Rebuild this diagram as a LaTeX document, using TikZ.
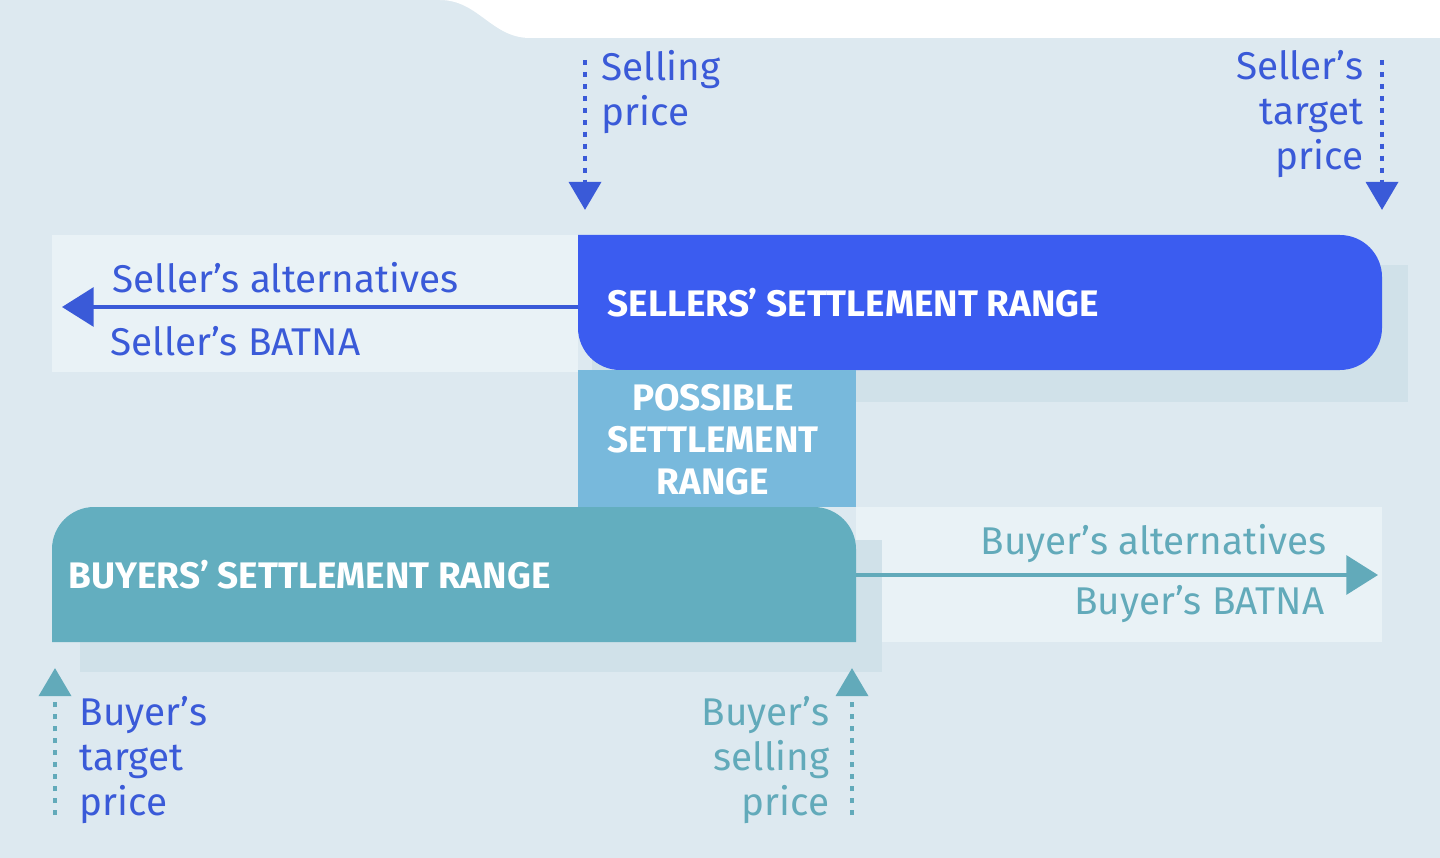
\documentclass[tikz,border=0pt]{standalone}
\usepackage{fontspec}
\setmainfont{Fira Sans}
\usetikzlibrary{arrows.meta,positioning}
\definecolor{bgColor}{HTML}{DDE9F0}
\definecolor{paleColor}{HTML}{E9F2F6}
\definecolor{shadeColor}{HTML}{D0E1E9}
\definecolor{sellColor}{HTML}{3B5CF0}
\definecolor{possColor}{HTML}{78B9DC}
\definecolor{buyColor}{HTML}{63AEBF}
\definecolor{sellText}{HTML}{3A5AD8}
\definecolor{buyText}{HTML}{62AABA}
\tikzset{
	barlabel/.style={text=white, font=\bfseries\fontsize{10.5}{12}\selectfont, inner sep=0},
	pricelabel/.style={font=\fontsize{11}{12.8}\selectfont, inner sep=0},
	dotarrow/.style={dotted, line width=1.4pt, -{Triangle[length=8pt,width=9pt]}},
	rangearrow/.style={line width=1.2pt, -{Triangle[length=9pt,width=11pt]}}
}
\begin{document}
\begin{tikzpicture}[x=0.01cm, y=-0.01cm]
	\fill[bgColor] (0,0) rectangle (1440,858);
	\useasboundingbox (0,0) rectangle (1440,858);
	\fill[white] (440,-5) -- (440,0) to[out=0,in=180] (530,38) -- (1440,38) -- (1440,-5) -- cycle;
	% pale backgrounds and shadows
	\fill[paleColor] (52,235) rectangle (578,372);
	\fill[paleColor] (856,507) rectangle (1382,642);
	\fill[shadeColor] (592,265) rectangle (1408,402);
	\fill[shadeColor] (80,540) rectangle (882,672);
	% bars
	\fill[sellColor, rounded corners=12] (578,235) -- (1382,235) -- (1382,370) -- (578,370) [sharp corners] -- cycle;
	\fill[possColor] (578,370) rectangle (856,507);
	\fill[buyColor, rounded corners=12] (52,642) -- (52,507) -- (856,507) [sharp corners] -- (856,642) -- cycle;
	\node[barlabel, anchor=west] (sell) at (607,303) {SELLERS’ SETTLEMENT RANGE};
	\node[barlabel, align=center] (poss) at (713,440) {POSSIBLE\\SETTLEMENT\\RANGE};
	\node[barlabel, anchor=west] (buy) at (68,575) {BUYERS’ SETTLEMENT RANGE};
	% range arrows
	\coordinate (sellstart) at (578,307);
	\coordinate (sellend) at (62,307);
	\coordinate (buystart) at (856,575);
	\coordinate (buyend) at (1378,575);
	\draw[rangearrow, sellText] (sellstart) -- (sellend);
	\draw[rangearrow, buyText] (buystart) -- (buyend);
	\node[pricelabel, text=sellText, anchor=west] (sellalt) at (112,278) {Seller’s alternatives};
	\node[pricelabel, text=sellText, anchor=west] (sellbatna) at (110,341) {Seller’s BATNA};
	\node[pricelabel, text=buyText, anchor=east] (buyalt) at (1327,544) {Buyer’s alternatives};
	\node[pricelabel, text=buyText, anchor=east] (buybatna) at (1325,604) {Buyer’s BATNA};
	% price markers
	\coordinate (sp top) at (585,60);
	\coordinate (sp bot) at (585,210);
	\coordinate (st top) at (1382,60);
	\coordinate (st bot) at (1382,210);
	\coordinate (bt bot) at (55,815);
	\coordinate (bt top) at (55,668);
	\coordinate (bs bot) at (852,815);
	\coordinate (bs top) at (852,668);
	\draw[dotarrow, sellText] (sp top) -- (sp bot);
	\draw[dotarrow, sellText] (st top) -- (st bot);
	\draw[dotarrow, buyText] (bt bot) -- (bt top);
	\draw[dotarrow, buyText] (bs bot) -- (bs top);
	\node[pricelabel, text=sellText, align=left, anchor=north west] (sprice) at (601,50) {Selling\\price};
	\node[pricelabel, text=sellText, align=right, anchor=north east] (stprice) at (1364,50) {Seller’s\\target\\price};
	\node[pricelabel, text=sellText, align=left, anchor=north west] (btprice) at (79,696) {Buyer’s\\target\\price};
	\node[pricelabel, text=buyText, align=right, anchor=north east] (bsprice) at (830,696) {Buyer’s\\selling\\price};
\end{tikzpicture}
\end{document}
